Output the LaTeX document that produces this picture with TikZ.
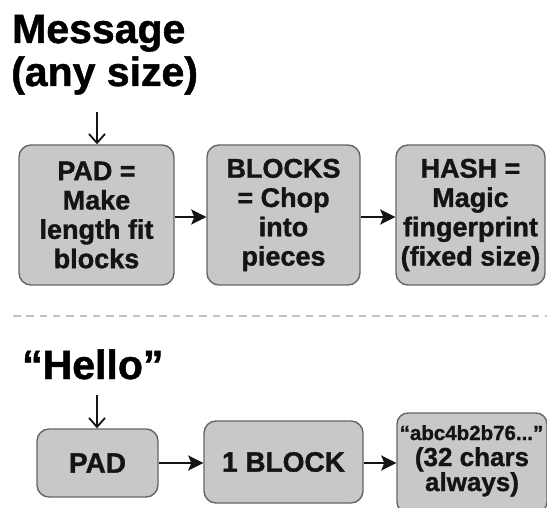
\documentclass[tikz,border=0pt]{standalone}
\usepackage{fontspec}
\setmainfont{Liberation Sans}[BoldFeatures={FakeBold=1.2}]
\usetikzlibrary{arrows.meta}
\definecolor{boxfill}{HTML}{C8C8C8}
\definecolor{boxline}{HTML}{666666}
\definecolor{inkdark}{HTML}{141414}
\tikzset{
  stagebox/.style={draw=boxline, fill=boxfill, line width=1.4pt, rounded corners=12pt, inner sep=0pt},
  boxtext/.style={align=center, font=\bfseries\fontsize{27}{29.3}\selectfont, text=inkdark, inner sep=0pt},
  title/.style={font=\bfseries\fontsize{41}{44}\selectfont, text=black, inner sep=0pt},
  flow/.style={draw=inkdark, line width=2.4pt, -{Stealth[length=15pt,width=15pt,inset=3pt]}},
  drop/.style={draw=inkdark, line width=1.8pt, -{Straight Barb[length=9pt,width=16pt]}}
}
\begin{document}
\begin{tikzpicture}[x=1pt,y=-1pt]
  \useasboundingbox (0,0) rectangle (547,508);
  \fill[white] (0,0) rectangle (547,508);

  % general scheme
  \node[title, anchor=base west] (msg) at (12,43) {Message};
  \node[title, anchor=base west] (anysize) at (11,86) {(any size)};
  \node[stagebox, minimum width=155pt, minimum height=140pt] (pad) at (96.5,215) {};
  \node[stagebox, minimum width=153pt, minimum height=140pt] (blocks) at (283.5,215) {};
  \node[stagebox, minimum width=149pt, minimum height=140pt] (hash) at (470.5,215) {};
  \node[boxtext] (padtxt) at (pad.center) {PAD =\\Make\\length fit\\blocks};
  \node[boxtext] (blockstxt) at (blocks.center) {BLOCKS\\= Chop\\into\\pieces};
  \node[boxtext] (hashtxt) at (hash.center) {HASH =\\Magic\\fingerprint\\(fixed size)};
  \coordinate (msgfoot) at (97,112);
  \draw[drop] (msgfoot) -- (msgfoot |- pad.north);
  \draw[flow] (pad.east |- 0,217) -- (blocks.west |- 0,217);
  \draw[flow] (blocks.east |- 0,217) -- (hash.west |- 0,217);

  % divider
  \coordinate (divL) at (13,316);
  \coordinate (divR) at (547,316);
  \draw[draw=black!24, line width=1.8pt, dash pattern=on 7.5pt off 5.8pt] (divL) -- (divR);

  % worked example
  \node[title, anchor=base west] (hello) at (22,379) {“Hello”};
  \node[stagebox, minimum width=121pt, minimum height=68pt] (pad2) at (97.5,463) {};
  \node[stagebox, minimum width=159pt, minimum height=82pt] (block1) at (283.5,462) {};
  \node[stagebox, minimum width=150pt, minimum height=100pt, rounded corners=11pt] (digest) at (472,463) {};
  \node[boxtext, font=\bfseries\fontsize{28}{30}\selectfont] (pad2txt) at (pad2.center) {PAD};
  \node[boxtext, font=\bfseries\fontsize{28}{30}\selectfont] (block1txt) at (block1.center) {1 BLOCK};
  \node[boxtext, anchor=base, font=\bfseries\fontsize{20.5}{22}\selectfont] (hashline) at (471.5,440) {“abc4b2b76...”};
  \node[boxtext, anchor=base, font=\bfseries\fontsize{26}{28}\selectfont] (charsline) at (472,466) {(32 chars};
  \node[boxtext, anchor=base, font=\bfseries\fontsize{26}{28}\selectfont] (alwaysline) at (472,491) {always)};
  \coordinate (hellofoot) at (97,395);
  \draw[drop] (hellofoot) -- (hellofoot |- pad2.north);
  \draw[flow] (pad2.east |- 0,463) -- (block1.west |- 0,463);
  \draw[flow] (block1.east |- 0,463) -- (digest.west |- 0,463);
\end{tikzpicture}
\end{document}
